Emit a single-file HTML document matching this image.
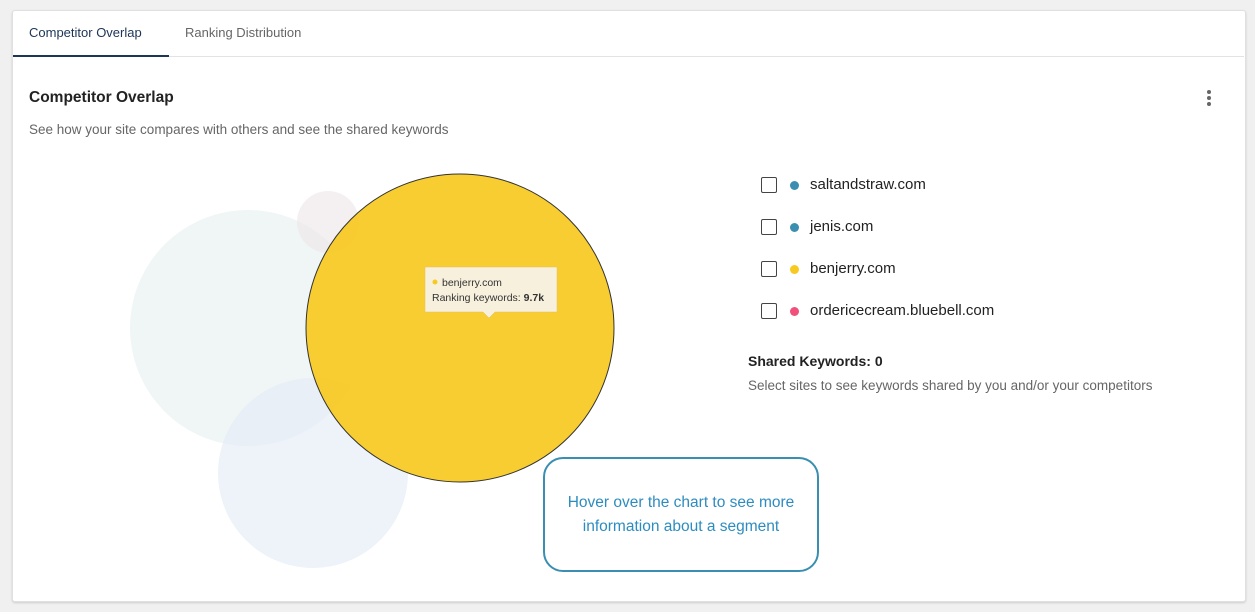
<!DOCTYPE html>
<html><head><style>
body{margin:0;width:1255px;height:612px;background:#f0f0f0;font-family:"Liberation Sans",sans-serif;position:relative;overflow:hidden}
.card{position:absolute;left:12px;top:10px;width:1232px;height:590px;background:#fff;border:1px solid #e0e0e0;border-radius:3px;box-shadow:0 1px 2px rgba(0,0,0,.15)}
.t{position:absolute;white-space:nowrap}
.cb{position:absolute;left:761px;width:14px;height:14px;border:1.5px solid #444;border-radius:2px;background:#fff}
.dot{position:absolute;left:790px;width:9px;height:9px;border-radius:50%}
.lg{position:absolute;left:810px;font-size:15px;color:#222}
</style></head><body>
<div class="card"></div>
<div class="t" style="left:29px;top:25px;font-size:13px;color:#1d3557">Competitor Overlap</div>
<div class="t" style="left:185px;top:25px;font-size:13px;color:#666">Ranking Distribution</div>
<div style="position:absolute;left:13px;top:56px;width:1231px;height:1px;background:#e3e3e3"></div>
<div style="position:absolute;left:13px;top:55px;width:156px;height:2px;background:#1d3557"></div>
<div class="t" style="left:29px;top:89px;font-size:15.5px;font-weight:bold;color:#222">Competitor Overlap</div>
<div class="t" style="left:29px;top:122px;font-size:13.5px;color:#666">See how your site compares with others and see the shared keywords</div>
<div style="position:absolute;left:1207px;top:90px;width:4px;height:4px;border-radius:50%;background:#666;box-shadow:0 6px 0 #666,0 12px 0 #666"></div>
<svg style="position:absolute;left:0;top:0" width="1255" height="612">
<circle cx="248" cy="328" r="118" fill="#e6f0f0" opacity="0.6"/>
<circle cx="313" cy="473" r="95" fill="#e3ebf7" opacity="0.6"/>
<circle cx="328" cy="222" r="31" fill="#ece6e8" opacity="0.6"/>
<circle cx="460" cy="328" r="154" fill="#f8c921" fill-opacity="0.93" stroke="#333" stroke-width="1"/>
<path d="M425 267h132v45h-62l-6 6-6-6h-58z" fill="#f7f0dd" stroke="#e0c060" stroke-width="0.5"/>
<circle cx="435" cy="282" r="2.5" fill="#f8c921"/>
<text x="442" y="286" font-size="10.5" fill="#333" font-family="Liberation Sans">benjerry.com</text>
<text x="432" y="301" font-size="10.5" fill="#333" font-family="Liberation Sans">Ranking keywords: <tspan font-weight="bold">9.7k</tspan></text>
</svg>
<div class="cb" style="top:177px"></div><div class="dot" style="top:181px;background:#3a8fb0"></div><div class="lg" style="top:176px">saltandstraw.com</div>
<div class="cb" style="top:219px"></div><div class="dot" style="top:223px;background:#3a8fb0"></div><div class="lg" style="top:218px">jenis.com</div>
<div class="cb" style="top:261px"></div><div class="dot" style="top:265px;background:#f8c921"></div><div class="lg" style="top:260px">benjerry.com</div>
<div class="cb" style="top:303px"></div><div class="dot" style="top:307px;background:#f0507a"></div><div class="lg" style="top:302px">ordericecream.bluebell.com</div>
<div class="t" style="left:748px;top:353px;font-size:14px;font-weight:bold;color:#222">Shared Keywords: 0</div>
<div class="t" style="left:748px;top:378px;font-size:13.5px;color:#666">Select sites to see keywords shared by you and/or your competitors</div>
<div style="position:absolute;left:543px;top:457px;width:272px;height:111px;border:2.5px solid #3a8fb0;border-radius:20px;background:#fff;color:#2d8cbf;font-size:15.5px;line-height:24px;text-align:center;display:flex;align-items:center;justify-content:center">Hover over the chart to see more<br>information about a segment</div>
</body></html>
